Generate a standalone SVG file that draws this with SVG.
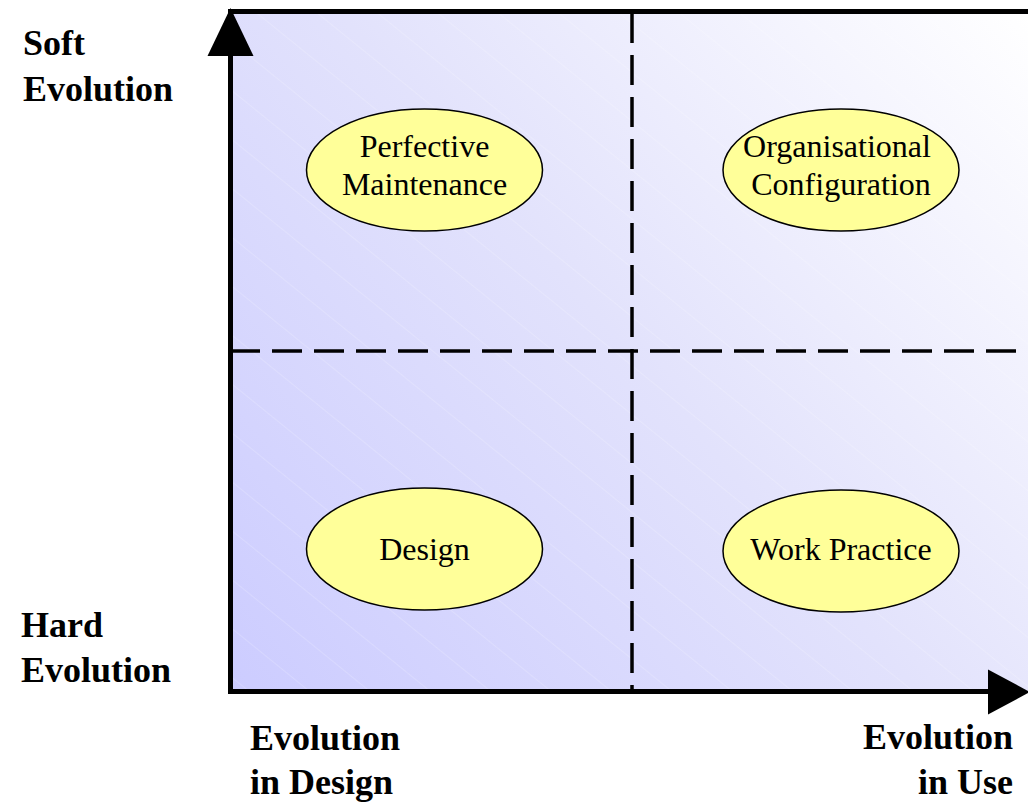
<svg xmlns="http://www.w3.org/2000/svg" width="1028" height="803" viewBox="0 0 1028 803">
  <defs>
    <linearGradient id="bg" gradientUnits="userSpaceOnUse" x1="230" y1="692" x2="1028" y2="12">
      <stop offset="0" stop-color="#CCCCFF"/>
      <stop offset="0.5" stop-color="#E2E2FC"/>
      <stop offset="1" stop-color="#FFFFFF"/>
    </linearGradient>
    <pattern id="hatch" patternUnits="userSpaceOnUse" width="38" height="38" patternTransform="rotate(39)">
      <line x1="0" y1="0" x2="38" y2="0" stroke="#FFFFFF" stroke-width="1" stroke-opacity="0.35"/>
    </pattern>
  </defs>
  <style>
    .node ellipse { fill: #FFFF99; stroke: #000000; stroke-width: 1.5; }
    .node text { font-family: "Liberation Serif", "Times New Roman", serif; font-size: 32px; fill: #000000; text-anchor: middle; }
    .label { font-family: "Liberation Serif", "Times New Roman", serif; font-size: 36px; font-weight: bold; fill: #000000; }
    .axis { stroke: #000000; stroke-width: 5; fill: none; }
    .divider { stroke: #000000; stroke-width: 3.5; stroke-dasharray: 30 12; fill: none; }
  </style>

  <rect x="230" y="12" width="798" height="680" fill="url(#bg)"/>
  <rect x="230" y="12" width="798" height="680" fill="url(#hatch)"/>

  <g id="connectors">
    <line class="divider" x1="632" y1="13" x2="632" y2="690"/>
    <line class="divider" x1="230" y1="351" x2="1028" y2="351"/>
    <line class="axis" x1="228" y1="11.5" x2="1028" y2="11.5"/>
    <line class="axis" x1="230.5" y1="50" x2="230.5" y2="694"/>
    <line class="axis" x1="228" y1="691.5" x2="992" y2="691.5"/>
    <polygon points="230.5,8 207.5,56 253.5,56" fill="#000000"/>
    <polygon points="1030,692 988,669.5 988,714.5" fill="#000000"/>
  </g>

  <g id="perfective-maintenance" class="node">
    <ellipse cx="424.5" cy="170" rx="118" ry="61"/>
    <text x="424.5" y="157">Perfective</text>
    <text x="424.5" y="195">Maintenance</text>
  </g>
  <g id="organisational-configuration" class="node">
    <ellipse cx="841" cy="170" rx="118" ry="61"/>
    <text x="837" y="157">Organisational</text>
    <text x="841" y="195">Configuration</text>
  </g>
  <g id="design" class="node">
    <ellipse cx="424.5" cy="549" rx="118" ry="61"/>
    <text x="424.5" y="560">Design</text>
  </g>
  <g id="work-practice" class="node">
    <ellipse cx="841" cy="551" rx="118" ry="61"/>
    <text x="841" y="560">Work Practice</text>
  </g>

  <g id="axis-labels">
    <text class="label" x="23" y="55">Soft</text>
    <text class="label" x="23" y="101">Evolution</text>
    <text class="label" x="21" y="637">Hard</text>
    <text class="label" x="21" y="682">Evolution</text>
    <text class="label" x="250" y="750">Evolution</text>
    <text class="label" x="250" y="794">in Design</text>
    <text class="label" x="1013" y="749" text-anchor="end">Evolution</text>
    <text class="label" x="1013" y="794" text-anchor="end">in Use</text>
  </g>
</svg>
